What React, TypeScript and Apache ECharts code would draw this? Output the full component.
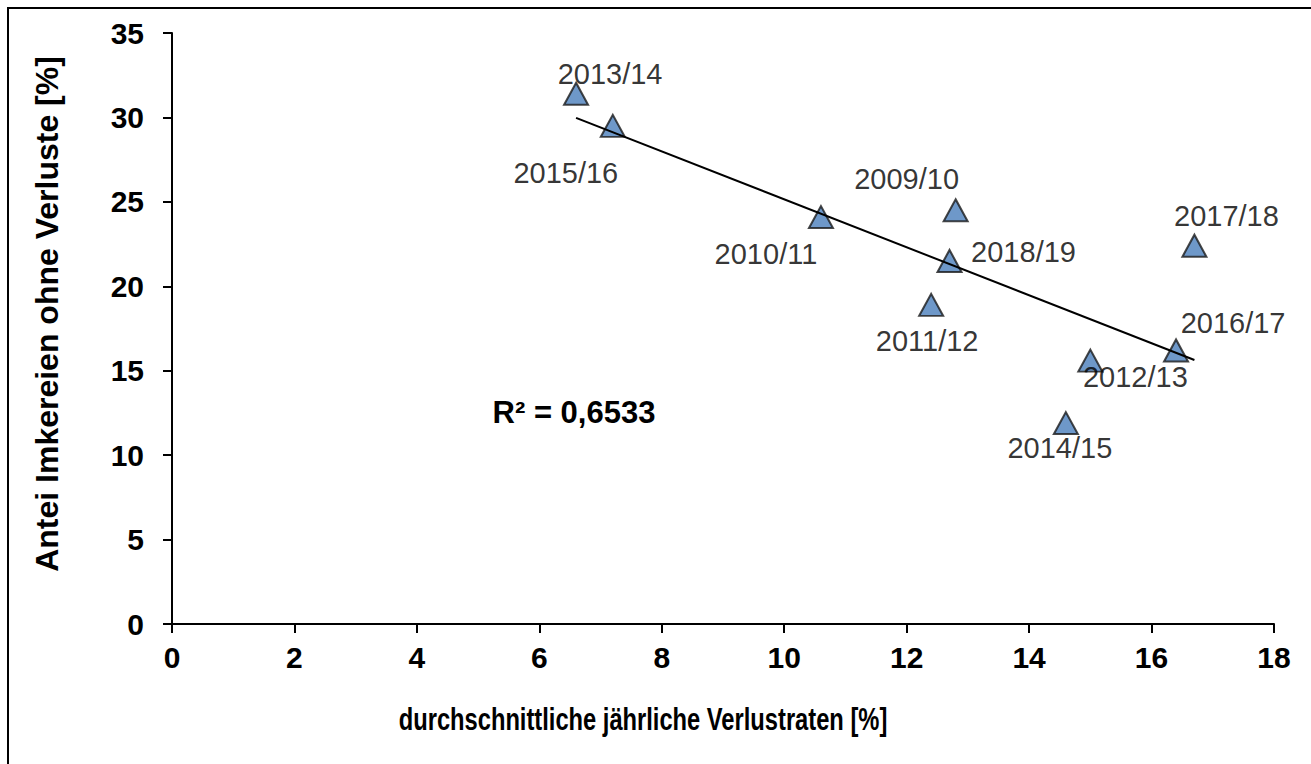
import React, { useEffect, useRef } from "react";
import * as echarts from "echarts";

// ---- data ----
const years = ["2009/10", "2010/11", "2011/12", "2012/13", "2013/14", "2014/15", "2015/16", "2016/17", "2017/18", "2018/19"];
const lossRate = [12.8, 10.6, 12.4, 15.0, 6.6, 14.6, 7.2, 16.4, 16.7, 12.7];
const shareNoLoss = [24.5, 24.1, 18.9, 15.6, 31.4, 11.9, 29.5, 16.2, 22.4, 21.5];
const xTicks = { min: 0, max: 18, interval: 2 };
const yTicks = { min: 0, max: 35, interval: 5 };
const r2Text = "R² = 0,6533";
const xTitle = "durchschnittliche jährliche Verlustraten [%]";
const yTitle = "Antei Imkereien ohne Verluste [%]";

// label placement (style, not data)
const labelOffsets: Record<string, [number, number]> = {
  "2009/10": [-49, -31],
  "2010/11": [-55, 37],
  "2011/12": [-4, 36],
  "2012/13": [45, 16],
  "2013/14": [34, -20],
  "2014/15": [-6, 25],
  "2015/16": [-47, 47],
  "2016/17": [57, -27],
  "2017/18": [32, -30],
  "2018/19": [74, -9],
};

function linearFit(xs: number[], ys: number[]) {
  const n = xs.length;
  const mx = xs.reduce((a, b) => a + b, 0) / n;
  const my = ys.reduce((a, b) => a + b, 0) / n;
  let sxy = 0, sxx = 0;
  for (let i = 0; i < n; i++) {
    sxy += (xs[i] - mx) * (ys[i] - my);
    sxx += (xs[i] - mx) ** 2;
  }
  const b = sxy / sxx;
  const a = my - b * mx;
  return { a, b };
}

const FONT = '"Liberation Sans", Arial, sans-serif';
const W = 1303;
const H = 748;

export default function App() {
  const ref = useRef<HTMLDivElement>(null);
  useEffect(() => {
    if (!ref.current) return;
    const chart = echarts.init(ref.current, undefined, { renderer: "svg" });
    const { a, b } = linearFit(lossRate, shareNoLoss);
    const xMin = Math.min(...lossRate);
    const xMax = Math.max(...lossRate);
    const trend = [
      [xMin, a + b * xMin],
      [xMax, a + b * xMax],
    ];
    const axisCommon = {
      type: "value" as const,
      axisLine: { show: true, lineStyle: { color: "#000", width: 2 } },
      axisTick: { show: true, length: 9, lineStyle: { color: "#000", width: 2 } },
      splitLine: { show: false },
    };
    chart.setOption({
      animation: false,
      grid: { left: 164, top: 25, right: 37, bottom: 132, containLabel: false },
      xAxis: {
        ...axisCommon,
        ...xTicks,
        axisLabel: { fontSize: 30, fontWeight: "bold", color: "#000", fontFamily: FONT, margin: 18 },
      },
      yAxis: {
        ...axisCommon,
        ...yTicks,
        axisLabel: { fontSize: 30, fontWeight: "bold", color: "#000", fontFamily: FONT, margin: 28 },
      },
      series: [
        {
          type: "scatter",
          symbol: "triangle",
          symbolSize: [24, 22],
          z: 2,
          itemStyle: { color: "#4A7EBB", borderColor: "#1a1a1a", borderWidth: 2 },
          label: {
            show: true,
            position: "inside",
            formatter: "{b}",
            fontSize: 29,
            color: "#000",
            fontFamily: FONT,
          },
          data: years.map((y, i) => ({
            name: y,
            value: [lossRate[i], shareNoLoss[i]],
            label: { offset: labelOffsets[y] },
          })),
        },
        {
          type: "line",
          data: trend,
          showSymbol: false,
          symbol: "none",
          z: 3,
          lineStyle: { color: "#000", width: 2 },
          silent: true,
        },
      ],
      graphic: [
        {
          type: "text",
          x: 39,
          y: 306,
          rotation: Math.PI / 2,
          style: { text: yTitle, fill: "#000", font: `bold 32px ${FONT}`, align: "center", verticalAlign: "middle" },
        },
        {
          type: "text",
          x: 635,
          y: 711,
          scaleX: 0.765,
          style: { text: xTitle, fill: "#000", font: `bold 31px ${FONT}`, align: "center", verticalAlign: "middle" },
        },
        {
          type: "text",
          x: 566,
          y: 404,
          style: { text: r2Text, fill: "#000", font: `bold 31px ${FONT}`, align: "center", verticalAlign: "middle" },
        },
      ],
    });
    return () => chart.dispose();
  }, []);
  return (
    <>
      <div ref={ref} style={{ width: W, height: H, background: "#fff" }} />
      <div
        style={{
          position: "fixed",
          left: 7,
          top: 7,
          width: 1320,
          height: 770,
          borderLeft: "2px solid #000",
          borderTop: "2px solid #000",
          pointerEvents: "none",
          boxSizing: "border-box",
        }}
      />
    </>
  );
}
